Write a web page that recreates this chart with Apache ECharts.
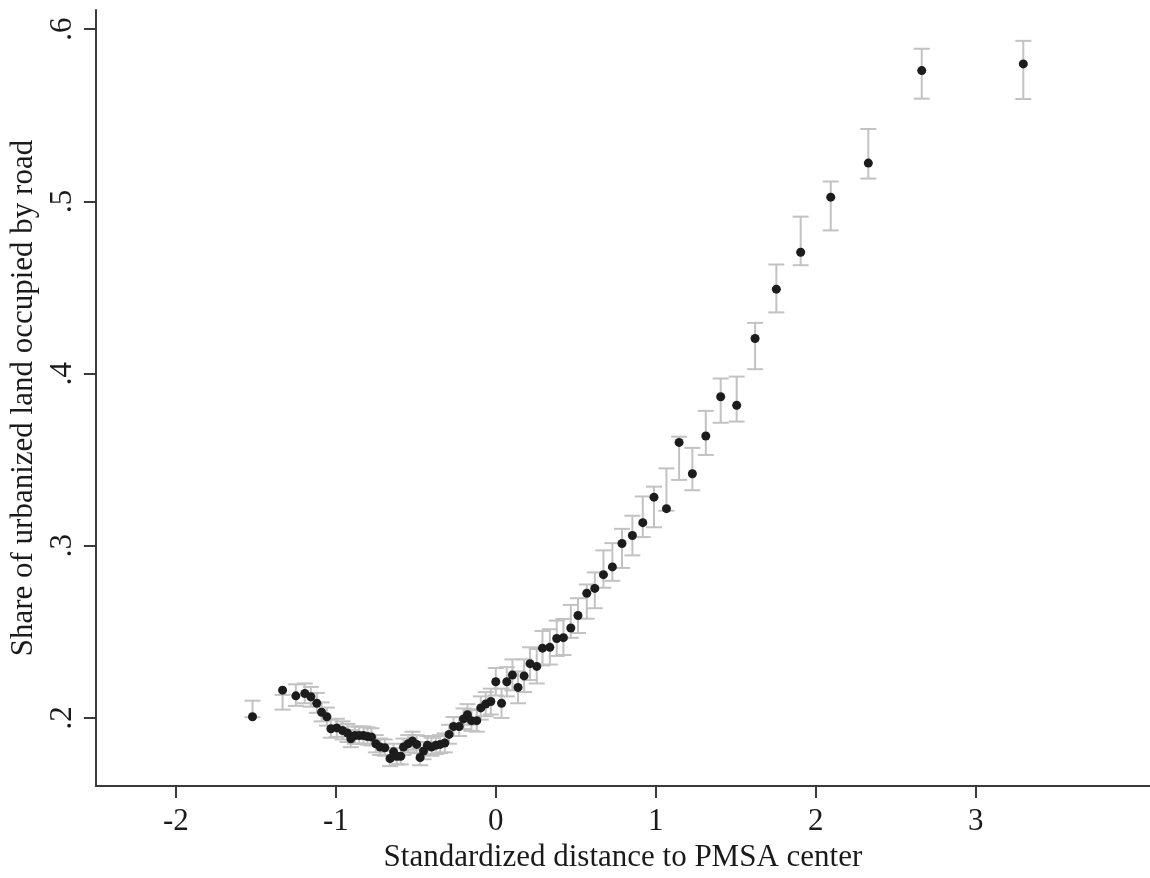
<!DOCTYPE html>
<html>
<head>
<meta charset="utf-8">
<script src="https://cdn.jsdelivr.net/npm/echarts@6/dist/echarts.min.js"></script>
<style>
  html, body { margin: 0; padding: 0; background: #fff; }
  #main { width: 1150px; height: 878px; }
</style>
</head>
<body>
<div id="main"></div>
<script>
var distance = [-1.521, -1.333, -1.250, -1.194, -1.156, -1.119, -1.089, -1.056, -1.031, -0.994,
    -0.958, -0.927, -0.906, -0.881, -0.854, -0.827, -0.802, -0.777, -0.750, -0.723,
    -0.694, -0.661, -0.639, -0.619, -0.594, -0.577, -0.548, -0.521, -0.494, -0.473,
    -0.452, -0.427, -0.402, -0.375, -0.348, -0.319, -0.292, -0.264, -0.229, -0.202,
    -0.177, -0.152, -0.119, -0.094, -0.063, -0.031, 0.000, 0.036, 0.069, 0.104,
    0.139, 0.177, 0.214, 0.256, 0.292, 0.338, 0.381, 0.423, 0.469, 0.514,
    0.569, 0.619, 0.673, 0.729, 0.789, 0.854, 0.919, 0.989, 1.067, 1.146,
    1.229, 1.313, 1.406, 1.506, 1.621, 1.754, 1.906, 2.094, 2.329, 2.663, 3.298];
var share = [0.2007, 0.2161, 0.2128, 0.2142, 0.2123, 0.2085, 0.2033, 0.2007, 0.1937, 0.1942,
    0.1927, 0.1912, 0.1879, 0.1898, 0.1898, 0.1898, 0.1892, 0.1889, 0.1850, 0.1831,
    0.1827, 0.1764, 0.1803, 0.1777, 0.1777, 0.1831, 0.1850, 0.1866, 0.1846, 0.1770,
    0.1808, 0.1841, 0.1831, 0.1841, 0.1846, 0.1854, 0.1904, 0.1950, 0.1950, 0.1994,
    0.2019, 0.1984, 0.1984, 0.2058, 0.2081, 0.2095, 0.2210, 0.2085, 0.2210, 0.2249,
    0.2177, 0.2244, 0.2315, 0.2299, 0.2405, 0.2410, 0.2461, 0.2466, 0.2522, 0.2595,
    0.2724, 0.2752, 0.2832, 0.2877, 0.3013, 0.3059, 0.3134, 0.3282, 0.3215, 0.3600,
    0.3418, 0.3637, 0.3865, 0.3815, 0.4203, 0.4490, 0.4704, 0.5024, 0.5222, 0.5759, 0.5798];
var ciLow = [0.2004, 0.2048, 0.2070, 0.2085, 0.2065, 0.2030, 0.1980, 0.1955, 0.1885, 0.1890,
    0.1875, 0.1860, 0.1830, 0.1850, 0.1850, 0.1850, 0.1845, 0.1840, 0.1800, 0.1785,
    0.1780, 0.1720, 0.1755, 0.1730, 0.1730, 0.1785, 0.1800, 0.1815, 0.1795, 0.1725,
    0.1760, 0.1790, 0.1780, 0.1790, 0.1795, 0.1800, 0.1850, 0.1895, 0.1895, 0.1935,
    0.1960, 0.1925, 0.1920, 0.1990, 0.2010, 0.2020, 0.2130, 0.2000, 0.2125, 0.2160,
    0.2085, 0.2150, 0.2220, 0.2200, 0.2305, 0.2310, 0.2360, 0.2365, 0.2465, 0.2493,
    0.2576, 0.2637, 0.2756, 0.2796, 0.2871, 0.2944, 0.3050, 0.3107, 0.3203, 0.3382,
    0.3322, 0.3527, 0.3714, 0.3721, 0.4025, 0.4355, 0.4629, 0.4831, 0.5132, 0.5596, 0.5594];
var ciHigh = [0.2100, 0.2134, 0.2195, 0.2200, 0.2180, 0.2145, 0.2090, 0.2060, 0.1990, 0.1995,
    0.1980, 0.1965, 0.1930, 0.1950, 0.1950, 0.1950, 0.1945, 0.1940, 0.1900, 0.1880,
    0.1875, 0.1810, 0.1850, 0.1825, 0.1825, 0.1880, 0.1900, 0.1920, 0.1900, 0.1820,
    0.1860, 0.1895, 0.1885, 0.1895, 0.1900, 0.1910, 0.1960, 0.2005, 0.2005, 0.2055,
    0.2080, 0.2045, 0.2050, 0.2125, 0.2150, 0.2170, 0.2290, 0.2170, 0.2295, 0.2340,
    0.2270, 0.2340, 0.2410, 0.2400, 0.2505, 0.2515, 0.2565, 0.2575, 0.2656, 0.2695,
    0.2775, 0.2845, 0.2973, 0.3015, 0.3098, 0.3174, 0.3286, 0.3343, 0.3449, 0.3633,
    0.3568, 0.3783, 0.3971, 0.3982, 0.4294, 0.4633, 0.4911, 0.5115, 0.5420, 0.5886, 0.5932];

var xTicks = [-2, -1, 0, 1, 2, 3];
var yTicks = [0.2, 0.3, 0.4, 0.5, 0.6];
var yTickLabels = ['.2', '.3', '.4', '.5', '.6'];

var myChart = echarts.init(document.getElementById('main'));

var points = [];
var bars = [];
for (var i = 0; i < distance.length; i++) {
    points.push([distance[i], share[i]]);
    bars.push([distance[i], ciLow[i], ciHigh[i]]);
}

var font = 'Liberation Serif';
var axisColor = '#3a3a3a';

// error bar: vertical line with a cap at each end
function renderBar(params, api) {
    var lo = api.coord([api.value(0), api.value(1)]);
    var hi = api.coord([api.value(0), api.value(2)]);
    var w = 8;
    var style = {stroke: '#c2c2c2', lineWidth: 2};
    return {
        type: 'group',
        children: [
            {type: 'line', shape: {x1: lo[0], y1: lo[1], x2: hi[0], y2: hi[1]}, style: style},
            {type: 'line', shape: {x1: lo[0] - w, y1: lo[1], x2: lo[0] + w, y2: lo[1]}, style: style},
            {type: 'line', shape: {x1: hi[0] - w, y1: hi[1], x2: hi[0] + w, y2: hi[1]}, style: style}
        ]
    };
}

myChart.setOption({
    backgroundColor: '#fff',
    animation: false,
    grid: {left: 95, right: 0, top: 10, bottom: 85},
    xAxis: {
        type: 'value',
        min: -2.5,
        max: 4.09,
        name: 'Standardized distance to PMSA center',
        nameLocation: 'middle',
        nameGap: 50,
        nameTextStyle: {fontFamily: font, fontSize: 31, color: '#1a1a1a'},
        axisLine: {onZero: false, lineStyle: {color: axisColor, width: 2}},
        axisTick: {show: true, length: 12, lineStyle: {color: axisColor, width: 2}, customValues: xTicks},
        axisLabel: {fontFamily: font, fontSize: 31, color: '#1a1a1a', margin: 20, customValues: xTicks},
        splitLine: {show: false}
    },
    yAxis: {
        type: 'value',
        min: 0.1604,
        max: 0.6111,
        name: 'Share of urbanized land occupied by road',
        nameLocation: 'middle',
        nameGap: 55,
        nameRotate: 90,
        nameTextStyle: {fontFamily: font, fontSize: 31, color: '#1a1a1a'},
        axisLine: {show: true, onZero: false, lineStyle: {color: axisColor, width: 2}},
        axisTick: {show: true, length: 12, lineStyle: {color: axisColor, width: 2}, customValues: yTicks},
        axisLabel: {
            fontFamily: font, fontSize: 31, color: '#1a1a1a', margin: 18, rotate: 90,
            customValues: yTicks,
            formatter: function (v) {
                var idx = yTicks.indexOf(Math.round(v * 10) / 10);
                return idx >= 0 ? yTickLabels[idx] : '';
            }
        },
        splitLine: {show: false}
    },
    series: [
        {
            type: 'custom',
            renderItem: renderBar,
            data: bars,
            encode: {x: 0, y: [1, 2]},
            z: 1
        },
        {
            type: 'scatter',
            data: points,
            symbol: 'circle',
            symbolSize: 9,
            itemStyle: {color: '#1c1c1c', opacity: 1},
            z: 2
        }
    ]
});
</script>
</body>
</html>
